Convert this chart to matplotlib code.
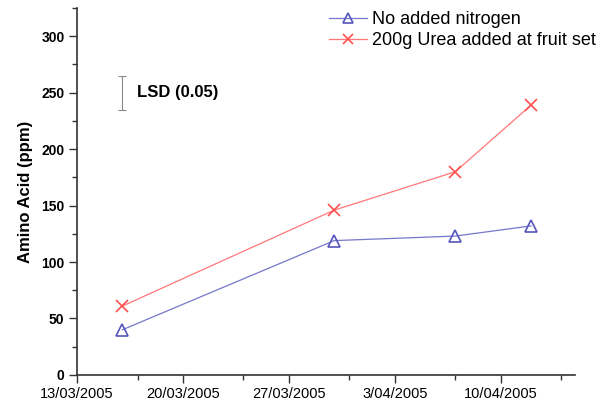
import matplotlib
matplotlib.use("Agg")
import matplotlib.pyplot as plt
import matplotlib.dates as mdates
import numpy as np
import datetime as dt

# data
dates = ["2005-03-16", "2005-03-30", "2005-04-07", "2005-04-12"]
no_nitrogen = [40, 119, 123, 132]
urea = [61, 146, 180, 239]
lsd_date = "2005-03-16"
lsd_center = 250
lsd_half = 15
major_ticks = ["2005-03-13", "2005-03-20", "2005-03-27", "2005-04-03", "2005-04-10"]
major_labels = ["13/03/2005", "20/03/2005", "27/03/2005", "3/04/2005", "10/04/2005"]
minor_ticks = ["2005-03-17", "2005-03-24", "2005-03-31", "2005-04-07", "2005-04-14"]

plt.rcParams['font.family'] = ['Liberation Sans', 'DejaVu Sans']

to_dt = lambda s: dt.datetime.strptime(s, "%Y-%m-%d")
x = [to_dt(d) for d in dates]

fig = plt.figure(figsize=(6.11, 4.01), dpi=100)
ax = fig.add_axes([0.126, 0.065, 0.815, 0.915])

blue = '#7777cc'
red = '#ff7777'
ax.plot(x, no_nitrogen, color=blue, lw=0.9, marker='^', ms=8, mfc='none',
        mec='#5555bb', mew=1.2, label='No added nitrogen')
ax.plot(x, urea, color=red, lw=0.9, marker='x', ms=9, mec='#ff5050',
        mew=1.2, label='200g Urea added at fruit set')

ax.errorbar([to_dt(lsd_date)], [lsd_center], yerr=[lsd_half], color='#888888',
            lw=0.8, capsize=3, capthick=0.8)
ax.text(to_dt(lsd_date) + dt.timedelta(days=0.95), lsd_center, 'LSD (0.05)',
        fontsize=12, fontweight='bold', va='center')

ax.set_xlim(to_dt("2005-03-13"), to_dt("2005-03-13") + dt.timedelta(days=32.9))
ax.set_ylim(0, 325)
ax.set_xticks([mdates.date2num(to_dt(d)) for d in major_ticks])
ax.set_xticklabels(major_labels, fontsize=10.5)
ax.set_xticks([mdates.date2num(to_dt(d)) for d in minor_ticks], minor=True)
ax.set_yticks(np.arange(0, 301, 50))
ax.set_yticks(np.arange(25, 326, 50), minor=True)
for lab in ax.get_yticklabels():
    lab.set_fontweight('bold')
    lab.set_fontsize(10)

ax.spines['top'].set_visible(False)
ax.spines['right'].set_visible(False)
for s in ['left', 'bottom']:
    ax.spines[s].set_color('#333333')
    ax.spines[s].set_linewidth(1.2)
ax.tick_params(which='major', length=6, width=1, color='#333333', pad=3)
ax.tick_params(which='minor', length=3.5, width=1, color='#333333')

ax.set_ylabel('Amino Acid (ppm)', fontsize=12, fontweight='bold', labelpad=6)

ax.legend(loc='upper right', bbox_to_anchor=(1.075, 1.035), frameon=False,
          fontsize=13, handlelength=2.1, handletextpad=0.3, labelspacing=0.2,
          markerscale=0.85)

fig.savefig("out.png", dpi=100)
